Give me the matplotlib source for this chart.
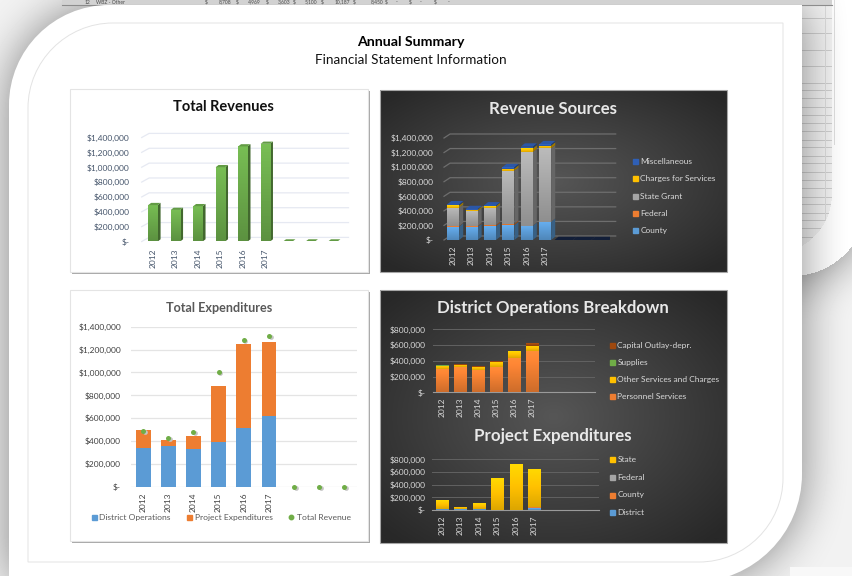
import numpy as np
import matplotlib
matplotlib.use('Agg')
import matplotlib.pyplot as plt
from matplotlib.path import Path
from matplotlib.patches import PathPatch, Rectangle
from matplotlib.lines import Line2D
from matplotlib.colors import to_rgb, LinearSegmentedColormap

plt.rcParams['font.family'] = ['Lato', 'DejaVu Sans']

# Datos
years = ['2012', '2013', '2014', '2015', '2016', '2017', '', '', '']
total_revenue = [490000, 425000, 475000, 1000000, 1280000, 1315000, 0, 0, 0]

county = [185000, 180000, 190000, 205000, 195000, 250000, 0, 0, 0]
federal = [5000, 10000, 15000, 20000, 2000, 2000, 0, 0, 0]
state_grant = [255000, 205000, 235000, 725000, 1010000, 1005000, 0, 0, 0]
charges = [30000, 20000, 25000, 30000, 50000, 40000, 0, 0, 0]
misc = [15000, 10000, 10000, 20000, 25000, 18000, 0, 0, 0]

district_ops = [340000, 355000, 330000, 390000, 515000, 620000, 0, 0, 0]
project_exp = [155000, 55000, 115000, 495000, 730000, 650000, 0, 0, 0]

personnel = [300000, 315000, 285000, 325000, 435000, 520000, 0, 0, 0]
other_serv = [40000, 35000, 40000, 65000, 85000, 70000, 0, 0, 0]
supplies = [1000, 1000, 1000, 1000, 1000, 1000, 0, 0, 0]
capital = [0, 5000, 3000, 5000, 5000, 30000, 0, 0, 0]

proj_district = [20000, 15000, 20000, 3000, 3000, 30000, 0, 0, 0]
proj_county = [2000, 2000, 2000, 2000, 2000, 10000, 0, 0, 0]
proj_federal = [0, 0, 0, 0, 0, 0, 0, 0, 0]
proj_state = [130000, 38000, 93000, 495000, 725000, 610000, 0, 0, 0]

# Fila de la hoja de calculo que asoma arriba
fila_textos = ['12', 'WBZ - Other', '$', '8,708', '$', '4,969', '$', '3,603', '$', '5,100', '$', '10,187',
               '$', '8,450', '$', '-', '$', '-', '$', '-']
fila_x = [85, 96, 205, 219, 236, 248, 266, 278, 293, 305, 321, 335, 353, 371, 385, 396, 409, 420, 434, 448]

W, H = 853, 576
BLUE, ORANGE, GRAY, YELLOW, GREEN = '#5b9bd5', '#ed7d31', '#a5a5a5', '#ffc000', '#70ad47'
SLATE = '#44546a'
LIGHT = '#d9d9d9'


def ejes(x0, y0, x1, y1):
    # ejes a partir de pixeles de la imagen (y hacia abajo)
    ax = fig.add_axes([x0 / W, 1 - y1 / H, (x1 - x0) / W, (y1 - y0) / H])
    ax.patch.set_alpha(0)
    for s in ax.spines.values():
        s.set_visible(False)
    return ax


def redondeado(x0, y0, x1, y1, r_tl, r_br):
    k = 0.55
    v = [(x0, y0 + r_tl), (x0, y0 + r_tl * (1 - k)), (x0 + r_tl * (1 - k), y0), (x0 + r_tl, y0),
         (x1, y0), (x1, y1 - r_br), (x1, y1 - r_br * (1 - k)), (x1 - r_br * (1 - k), y1), (x1 - r_br, y1),
         (x0, y1), (x0, y0 + r_tl)]
    c = [Path.MOVETO, Path.CURVE4, Path.CURVE4, Path.CURVE4,
         Path.LINETO, Path.LINETO, Path.CURVE4, Path.CURVE4, Path.CURVE4,
         Path.LINETO, Path.LINETO]
    return Path(v, c)


def mascara(path, m=60):
    yy, xx = np.mgrid[-m:H + m, -m:W + m]
    return path.contains_points(np.c_[xx.ravel() + 0.5, yy.ravel() + 0.5]).reshape(xx.shape)


def difuminar(mask, radio=26, m=60):
    # dos pasadas de caja sobre la mascara; se recorta el margen al final
    f = mask.astype(float)
    caja = np.ones(2 * radio + 1) / (2 * radio + 1)
    for _ in range(2):
        f = np.apply_along_axis(lambda v: np.convolve(v, caja, mode='same'), 0, f)
        f = np.apply_along_axis(lambda v: np.convolve(v, caja, mode='same'), 1, f)
    return f[m:m + H, m:m + W]


def panel_oscuro(bg, x0, y0, x1, y1):
    yy, xx = np.mgrid[-1:1:80j, -1:1:120j]
    r = np.clip(np.sqrt(xx ** 2 + yy ** 2) / 1.35, 0, 1)
    bg.imshow(r, extent=(x0, x1, y1, y0), cmap=LinearSegmentedColormap.from_list('osc', ['#565656', '#282828']),
              vmin=0, vmax=1, aspect='auto', zorder=3, interpolation='bilinear')
    bg.add_patch(Rectangle((x0, y0), x1 - x0, y1 - y0, fc='none', ec='#a6a6a6', lw=0.8, zorder=4))


def panel_claro(bg, x0, y0, x1, y1):
    bg.add_patch(Rectangle((x0 + 2, y0 + 2), x1 - x0, y1 - y0, fc='#a8a8a8', ec='none', zorder=3))
    bg.add_patch(Rectangle((x0, y0), x1 - x0, y1 - y0, fc='white', ec='#e4e4e4', lw=0.8, zorder=3))


def cara(ax, x, bottom, alto, ancho, color, fuerza=0.22, z=3):
    # barra con degradado vertical: mas clara arriba, mas oscura abajo
    if alto <= 0:
        return
    rect = ax.bar(x, alto, ancho, bottom=bottom, color=color, zorder=z)[0]
    c = np.array(to_rgb(color))
    t = np.linspace(0, 1, 32)[:, None, None]
    g = np.clip(c[None, None, :] * (1 + fuerza * (0.5 - t) * 2 * 0.6), 0, 1)
    im = ax.imshow(g, extent=(x - ancho / 2, x + ancho / 2, bottom, bottom + alto), origin='upper',
                   aspect='auto', zorder=z + 0.1)
    im.set_clip_path(rect)


def barras_3d(ax, series, colores, ancho, dx, dy, color_vacio=None):
    # columnas apiladas con cara lateral y tapa
    n = len(series[0])
    for i in range(n):
        base = 0
        xl, xr = i - ancho / 2, i + ancho / 2
        for vals, col in zip(series, colores):
            v = vals[i]
            if v > 0:
                cara(ax, i, base, v, ancho, col)
                osc = np.array(to_rgb(col)) * 0.62
                ax.fill([xr, xr + dx, xr + dx, xr], [base, base + dy, base + v + dy, base + v],
                        color=osc, lw=0, zorder=3)
            base += v
        if base == 0 and color_vacio is not None:
            # las categorias vacias forman una franja oscura continua
            xl, xr, tapa = i - 0.5, i + 0.5, color_vacio
        else:
            tapa = colores[-1]
        ax.fill([xl, xr, xr + dx, xl + dx], [base, base, base + dy, base + dy],
                color=np.array(to_rgb(tapa)) * 0.92, lw=0, zorder=3.5)


def pared(ax, ticks, n, dx, dy, color, lw=0.9, extra=0.0):
    for t in ticks:
        ax.plot([-0.5, -0.5 + dx, n - 0.5 + extra], [t, t + dy, t + dy], color=color, lw=lw,
                zorder=1, clip_on=False)


def formato(v):
    return '$-' if v == 0 else f'${v:,.0f}'


def ajustar(ax, ticks, color, fs, n=9, pad=6, pad_x=4):
    ax.set_xlim(-0.5, n - 0.5)
    ax.set_ylim(0, ticks[-1])
    ax.set_yticks(ticks)
    ax.set_yticklabels([formato(t) for t in ticks], color=color, fontsize=fs)
    ax.set_xticks(range(n))
    ax.set_xticklabels(years, rotation=90, color=color, fontsize=fs)
    ax.tick_params(axis='both', length=0)
    ax.tick_params(axis='y', pad=pad)
    ax.tick_params(axis='x', pad=pad_x)


def leyenda(ax, etiquetas, colores, x, y, paso, color_txt, fs):
    # una leyenda vertical con la entrada de arriba en el pixel (x, y)
    h = [Line2D([], [], ls='', marker='s', ms=3.6, color=c) for c in colores]
    pts = (paso + 1.35) * 0.72
    ax.legend(h, etiquetas, loc='upper left', bbox_to_anchor=(x / W, 1 - y / H),
              bbox_transform=fig.transFigure, frameon=False, fontsize=fs, labelcolor=color_txt,
              labelspacing=(pts - fs) / fs, handlelength=0.6, handletextpad=0.3,
              borderaxespad=0, borderpad=0)


fig = plt.figure(figsize=(W / 100, H / 100), dpi=100, facecolor='#f2f2f2')

# Fondo: hoja de calculo, tarjetas blancas y sombras, todo en una imagen gris opaca
bg = fig.add_axes([0, 0, 1, 1])
bg.set_axis_off()

atras = redondeado(700, -60, 853 + 15, 276, 1, 76)
hoja = redondeado(700, -60, 832, 254, 1, 60)
frente = redondeado(9, 5, 802, 582, 100, 108)
m_atras = mascara(atras)
m_hoja = mascara(hoja)[60:60 + H, 60:60 + W]

pagina = np.full((H, W), 242.0)
pagina *= 1 - 0.46 * difuminar(m_atras)
pagina[m_atras[60:60 + H, 60:60 + W]] = 255
pagina[m_hoja] = 243
for yy in [18, 33, 50, 66, 83, 90, 98, 107, 115, 123, 131, 140, 147, 156, 163, 172, 180, 188, 197, 204, 213, 220, 228, 237]:
    pagina[yy][m_hoja[yy]] = 207
pagina[:, 825][m_hoja[:, 825]] = 220
pagina[:145, 834] = 222
pagina *= 1 - 0.46 * difuminar(mascara(frente))
pagina[567:, 790:] = np.maximum(pagina[567:, 790:], 248)
bg.imshow(pagina, cmap='gray', vmin=0, vmax=255, extent=(0, W, H, 0), aspect='auto', zorder=0,
          interpolation='nearest')

bg.add_patch(Rectangle((62, 0), 770, 4.5, fc='#d2d2d2', ec='none', zorder=1.2))
bg.plot([62, 832], [4.5, 4.5], color='#8c8c8c', lw=0.8, zorder=1.3)
for x, s in zip(fila_x, fila_textos):
    bg.text(x, 2, s, fontsize=3.6, color='#4a4a4a', va='center', ha='left', zorder=1.4)

bg.add_patch(PathPatch(frente, fc='white', ec='none', zorder=2))
bg.add_patch(PathPatch(redondeado(28, 23, 783, 562, 85, 84), fc='none', ec='#e3e3e3', lw=0.7, zorder=2.1))

panel_claro(bg, 70, 89, 368, 272)
panel_claro(bg, 70, 290, 368, 541)
panel_oscuro(bg, 380, 90, 727, 272)
panel_oscuro(bg, 380, 290, 727, 543)
bg.set_xlim(0, W)
bg.set_ylim(H, 0)

bg.text(411, 41.5, 'Annual Summary', ha='center', va='center', fontsize=10.2, fontweight='bold', color='black', zorder=5)
bg.text(411, 60.5, 'Financial Statement Information', ha='center', va='center', fontsize=9.7, color='#111111', zorder=5)
bg.text(223, 107, 'Total Revenues', ha='center', va='center', fontsize=10.5, fontweight='bold', color='#111111', zorder=5)
bg.text(553, 108.5, 'Revenue Sources', ha='center', va='center', fontsize=12.1, fontweight='bold', color='#e8e8e8', zorder=5)
bg.text(219, 307.5, 'Total Expenditures', ha='center', va='center', fontsize=9.1, fontweight='bold', color='#595959', zorder=5)
bg.text(553, 308.5, 'District Operations Breakdown', ha='center', va='center', fontsize=12.1, fontweight='bold', color='#e8e8e8', zorder=5)
bg.text(553, 436.5, 'Project Expenditures', ha='center', va='center', fontsize=12.2, fontweight='bold', color='#e8e8e8', zorder=5)

# Total Revenues (columnas 3D)
ax1 = ejes(141.7, 137.5, 344, 241.5)
t1 = [200000 * i for i in range(8)]
ajustar(ax1, t1, SLATE, 6.0, pad=9, pad_x=5)
pared(ax1, t1, 9, 0.33, 55000, '#e6e9f2', extra=0.2)
barras_3d(ax1, [total_revenue], ['#6aa84a'], 0.42, 0.13, 30000)

# Revenue Sources (columnas 3D apiladas)
ax2 = ejes(444, 138, 609.6, 240)
t2 = t1
ajustar(ax2, t2, LIGHT, 6.0, pad=7.6, pad_x=4)
pared(ax2, t2, 9, 0.33, 55000, '#6e6e6e', extra=0.33)
rev_series = [county, federal, state_grant, charges, misc]
rev_colors = [BLUE, ORANGE, GRAY, YELLOW, '#2f5fb5']
barras_3d(ax2, rev_series, rev_colors, 0.65, 0.22, 45000, color_vacio='#14213d')
leyenda(ax2, ['Miscellaneous', 'Charges for Services', 'State Grant', 'Federal', 'County'],
        rev_colors[::-1], 633, 158, 17.3, LIGHT, 6.0)

# Total Expenditures
ax3 = ejes(130.7, 326.7, 356.7, 486.7)
ajustar(ax3, t1, '#404040', 6.0, pad=7, pad_x=4)
ax3.grid(axis='y', color='#e4e4e4', lw=0.9, zorder=0)
ax3.set_axisbelow(True)
xs = np.arange(9)
ax3.bar(xs, district_ops, 0.58, color=BLUE, zorder=2)
ax3.bar(xs, project_exp, 0.58, bottom=district_ops, color=ORANGE, zorder=2)
ax3.plot(xs + 0.07, np.array(total_revenue) - 9000, 'o', ms=3.4, mew=0, color='#c4c4c4', zorder=3, clip_on=False)
ax3.plot(xs, total_revenue, 'o', ms=3.6, mew=0, color=GREEN, ls='', zorder=4, clip_on=False)
h3 = [Line2D([], [], ls='', marker='s', ms=3.6, color=BLUE),
      Line2D([], [], ls='', marker='s', ms=3.6, color=ORANGE),
      Line2D([], [], ls='', marker='o', ms=3.2, color=GREEN)]
ax3.legend(h3, ['District Operations', 'Project Expenditures', 'Total Revenue'], loc='upper left',
           bbox_to_anchor=(91 / W, 1 - 514 / H), bbox_transform=fig.transFigure,
           ncols=3, frameon=False, fontsize=6.1, labelcolor='#595959', handlelength=0.6, handletextpad=0.35,
           columnspacing=1.9, borderaxespad=0, borderpad=0)

# District Operations Breakdown
ax4 = ejes(433, 329.3, 595, 392.3)
t4 = [0, 200000, 400000, 600000, 800000]
ajustar(ax4, t4, LIGHT, 6.0, pad=5, pad_x=4)
ax4.grid(axis='y', color='#626262', lw=0.7, zorder=0)
ax4.spines['bottom'].set_visible(True)
ax4.spines['bottom'].set_color('#9a9a9a')
d_series = [personnel, other_serv, supplies, capital]
d_colors = [ORANGE, YELLOW, GREEN, '#9e480e']
for i in range(9):
    base = 0
    for vals, col in zip(d_series, d_colors):
        cara(ax4, i, base, vals[i], 0.67, col)
        base += vals[i]
ax4.set_xlim(-0.5, 8.5)
ax4.set_ylim(0, t4[-1])
leyenda(ax4, ['Capital Outlay-depr.', 'Supplies', 'Other Services and Charges', 'Personnel Services'],
        d_colors[::-1], 610, 342, 17, LIGHT, 6.0)

# Project Expenditures
ax5 = ejes(432.5, 459.3, 599, 510)
ajustar(ax5, t4, LIGHT, 6.0, pad=5, pad_x=4)
ax5.grid(axis='y', color='#626262', lw=0.7, zorder=0)
ax5.spines['bottom'].set_visible(True)
ax5.spines['bottom'].set_color('#9a9a9a')
p_series = [proj_district, proj_county, proj_federal, proj_state]
p_colors = [BLUE, ORANGE, GRAY, YELLOW]
for i in range(9):
    base = 0
    for vals, col in zip(p_series, p_colors):
        cara(ax5, i, base, vals[i], 0.66, col)
        base += vals[i]
ax5.set_xlim(-0.5, 8.5)
ax5.set_ylim(0, t4[-1])
leyenda(ax5, ['State', 'Federal', 'County', 'District'], p_colors[::-1], 610, 456, 17.7, LIGHT, 6.0)

for ax, lim in [(ax1, t1[-1]), (ax2, t2[-1])]:
    ax.set_xlim(-0.5, 8.5)
    ax.set_ylim(0, lim)

fig.savefig('out.png', dpi=100, facecolor=fig.get_facecolor())
